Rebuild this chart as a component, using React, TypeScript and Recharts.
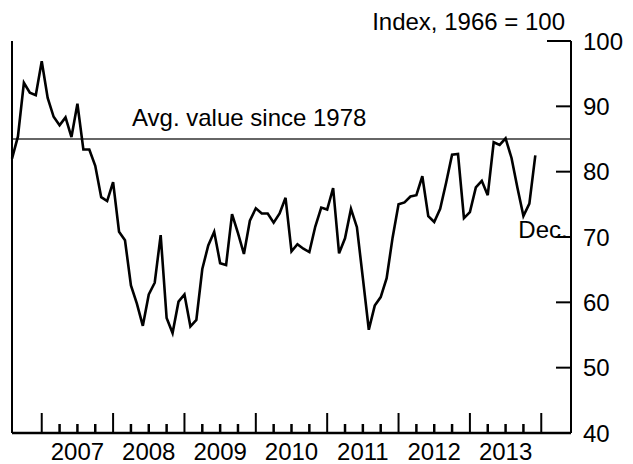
import React from 'react';
import { LineChart, Line, XAxis, YAxis, ReferenceLine, ReferenceDot } from 'recharts';

// monthly index, Aug 2006 .. Dec 2013
const firstYear = 2006;
const firstMonth = 7; // August (0-based)

const values2006 = [82.0, 85.4, 93.6, 92.1, 91.7];
const values2007 = [96.9, 91.3, 88.4, 87.1, 88.3, 85.3, 90.4, 83.4, 83.4, 80.9, 76.1, 75.5];
const values2008 = [78.4, 70.8, 69.5, 62.6, 59.8, 56.4, 61.2, 63.0, 70.3, 57.6, 55.3, 60.1];
const values2009 = [61.2, 56.3, 57.3, 65.1, 68.7, 70.8, 66.0, 65.7, 73.5, 70.6, 67.4, 72.5];
const values2010 = [74.4, 73.6, 73.6, 72.2, 73.6, 76.0, 67.8, 68.9, 68.2, 67.7, 71.6, 74.5];
const values2011 = [74.2, 77.5, 67.5, 69.8, 74.3, 71.5, 63.7, 55.8, 59.5, 60.8, 63.7, 69.9];
const values2012 = [75.0, 75.3, 76.2, 76.4, 79.3, 73.2, 72.3, 74.3, 78.3, 82.6, 82.7, 72.9];
const values2013 = [73.8, 77.6, 78.6, 76.4, 84.5, 84.1, 85.1, 82.1, 77.5, 73.2, 75.1, 82.5];

const yearLabels = ['2007', '2008', '2009', '2010', '2011', '2012', '2013'];
const yTicks = [40, 50, 60, 70, 80, 90, 100];
const avgSince1978 = 85;

const allValues = [
  ...values2006, ...values2007, ...values2008, ...values2009,
  ...values2010, ...values2011, ...values2012, ...values2013,
];
const data = allValues.map((v, i) => ({ t: i, v }));

// month index of January of a given year
const jan = (y: number) => (y - firstYear) * 12 - firstMonth;

const yearStarts = [...yearLabels.map((y) => jan(Number(y))), jan(2014)];
const midYears = yearLabels.map((y) => jan(Number(y)) + 6);
const quarterTicks: number[] = [];
yearStarts.slice(0, -1).forEach((s) => quarterTicks.push(s + 3, s + 6, s + 9));

const Y_MIN = 40;
const Y_MAX = 100;
const PLOT_H = 392; // px height of plot area
const pxToUnits = (px: number) => (px * (Y_MAX - Y_MIN)) / PLOT_H;

const FONT = '"Liberation Sans", Arial, Helvetica, sans-serif';
const FS = 24;

const XLabel = (props: any) => {
  const { x, y, payload } = props;
  const li = midYears.indexOf(payload.value);
  if (li < 0) return <g />;
  return (
    <text x={x} y={y + 27} textAnchor="middle" fontSize={FS} fontFamily={FONT} fill="#000">
      {yearLabels[li]}
    </text>
  );
};

const RightTick = (props: any) => {
  const { x, y, payload } = props;
  const len = payload.value === 100 ? 24 : 15;
  return (
    <g>
      {payload.value !== 40 && <line x1={x} x2={x - len} y1={y} y2={y} stroke="#000" strokeWidth={2} />}
      <text x={x + 12} y={y} dy="0.36em" textAnchor="start" fontSize={FS} fontFamily={FONT} fill="#000">
        {payload.value}
      </text>
    </g>
  );
};

const LeftTick = (props: any) => {
  const { x, y, payload } = props;
  if (payload.value === 40) return <g />;
  const len = payload.value === 100 ? 24 : 15;
  return <line x1={x} x2={x + len} y1={y} y2={y} stroke="#000" strokeWidth={2} />;
};

export default function App() {
  return (
    <div style={{ position: 'absolute', left: 0, top: 0, background: '#fff' }}>
      <LineChart width={633} height={464} data={data} margin={{ top: 41, right: 0, bottom: 0, left: 0 }}>
        <XAxis
          dataKey="t"
          type="number"
          domain={[0, 94]}
          ticks={midYears}
          interval={0}
          tick={<XLabel />}
          tickLine={false}
          tickSize={0}
          tickMargin={0}
          height={31}
          axisLine={false}
        />
        <YAxis
          yAxisId="r"
          orientation="right"
          domain={[Y_MIN, Y_MAX]}
          ticks={yTicks}
          interval={0}
          width={62}
          tick={<RightTick />}
          tickLine={false}
          tickSize={0}
          tickMargin={0}
          axisLine={{ stroke: '#000', strokeWidth: 2 }}
        />
        <YAxis
          yAxisId="l"
          orientation="left"
          domain={[Y_MIN, Y_MAX]}
          ticks={yTicks}
          interval={0}
          width={12}
          tick={<LeftTick />}
          tickLine={false}
          tickSize={0}
          tickMargin={0}
          axisLine={{ stroke: '#000', strokeWidth: 2 }}
        />
        {/* bottom axis line and inward year / quarter ticks */}
        <ReferenceLine yAxisId="r" y={Y_MIN} stroke="#000" strokeWidth={2.5} ifOverflow="visible" />
        {yearStarts.map((t) => (
          <ReferenceLine
            key={'y' + t}
            yAxisId="r"
            ifOverflow="visible"
            segment={[{ x: t, y: Y_MIN }, { x: t, y: Y_MIN + pxToUnits(20) }]}
            stroke="#000"
            strokeWidth={2}
          />
        ))}
        {quarterTicks.map((t) => (
          <ReferenceLine
            key={'q' + t}
            yAxisId="r"
            ifOverflow="visible"
            segment={[{ x: t, y: Y_MIN }, { x: t, y: Y_MIN + pxToUnits(9) }]}
            stroke="#000"
            strokeWidth={2.5}
          />
        ))}
        <ReferenceLine
          yAxisId="r"
          y={avgSince1978}
          stroke="#333"
          strokeWidth={1.5}
          label={(p: any) => (
            <text x={p.viewBox.x + 120} y={p.viewBox.y - 13} fontSize={FS} fontFamily={FONT} fill="#000">
              Avg. value since 1978
            </text>
          )}
        />
        <Line
          yAxisId="r"
          dataKey="v"
          type="linear"
          stroke="#000"
          strokeWidth={2.6}
          dot={false}
          isAnimationActive={false}
        />
        <ReferenceDot
          yAxisId="r"
          x={data.length - 1}
          y={71}
          r={0}
          fill="none"
          stroke="none"
          label={(p: any) => (
            <text x={p.viewBox.x - 17} y={p.viewBox.y + 8} fontSize={FS} fontFamily={FONT} fill="#000">
              Dec.
            </text>
          )}
        />
        <text x={565} y={30} textAnchor="end" fontSize={FS} fontFamily={FONT} fill="#000">
          Index, 1966 = 100
        </text>
      </LineChart>
    </div>
  );
}
